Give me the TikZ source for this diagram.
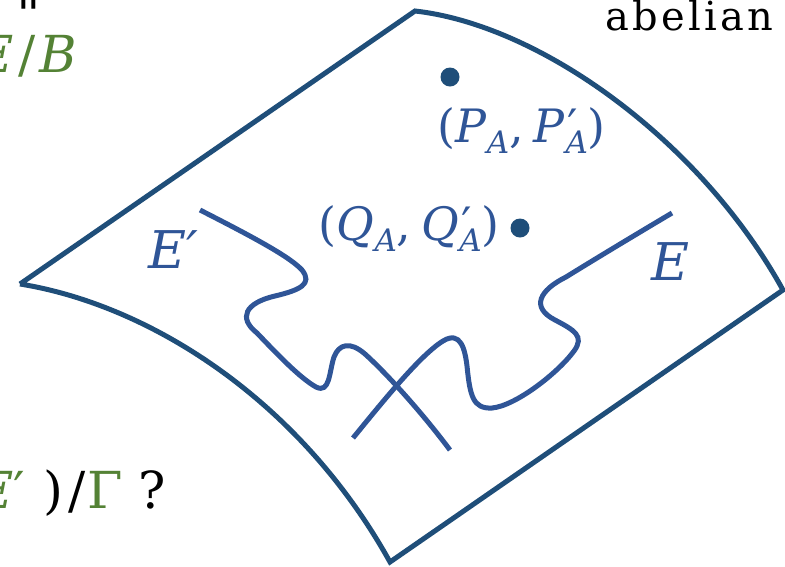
\documentclass[tikz,border=0pt]{standalone}
\usepackage{fontspec}
\setmainfont{DejaVu Serif}
\usetikzlibrary{positioning}
\definecolor{surfaceblue}{HTML}{1F4E79}
\definecolor{curveblue}{HTML}{2F5597}
\definecolor{mathgreen}{HTML}{548235}
\newcommand{\subA}{\raisebox{-0.24em}{\fontsize{31}{33}\selectfont\itshape A}}
\newcommand{\primeA}{\makebox[0pt][l]{\hspace{0.05em}′}\subA}
\tikzset{
    surface/.style={draw=surfaceblue, line width=5pt, line join=miter},
    curve/.style={draw=curveblue, line width=5pt},
    ptdot/.style={circle, fill=surfaceblue, inner sep=0pt, minimum size=19pt},
    ptlabel/.style={text=curveblue, inner sep=0pt, font=\fontsize{46}{50}\selectfont},
    cvlabel/.style={text=curveblue, inner sep=0pt, font=\fontsize{52}{56}\selectfont\itshape},
    slidetext/.style={inner sep=0pt, font=\fontsize{51}{56}\selectfont}
}
\begin{document}
\begin{tikzpicture}[x=1pt, y=-1pt]
    \useasboundingbox (0,0) rectangle (785,566);
    \clip (0,0) rectangle (785,566);

    % Surface
    \draw [surface] (20,284) -- (415,11)
        .. controls (540,25) and (700,140) .. (783,290)
        -- (390,562)
        .. controls (300,400) and (150,305) .. (20,284);

    % Curve E'
    \draw [curve] (200,210) .. controls (255,238) and (290,257) .. (302,270)
        .. controls (313,284) and (300,290) .. (275,296)
        .. controls (245,303) and (238,318) .. (257,333)
        .. controls (278,355) and (300,378) .. (316,387)
        .. controls (330,394) and (329,372) .. (334,357)
        .. controls (339,344) and (350,341) .. (365,354)
        .. controls (385,372) and (420,410) .. (450,450);

    % Curve E
    \draw [curve] (353,438) .. controls (380,405) and (420,355) .. (443,341)
        .. controls (461,330) and (465,350) .. (467,366)
        .. controls (470,396) and (473,409) .. (492,408)
        .. controls (515,406) and (557,374) .. (574,351)
        .. controls (585,336) and (574,330) .. (555,320)
        .. controls (530,307) and (540,290) .. (566,277)
        .. controls (600,256) and (640,232) .. (672,213);

    % Points
    \node [ptdot] (dotP) at (450,77) {};
    \node [ptdot] (dotQ) at (520,228) {};
    \node [ptlabel, anchor=base west] (labelP) at (437,142)
        {(\textit{P}\subA,\:\textit{P}\primeA)};
    \node [ptlabel, anchor=base east] (labelQ) at (500,240)
        {(\textit{Q}\subA,\:\textit{Q}\primeA)};

    % Curve labels
    \node [cvlabel, anchor=base west] (labelEp) at (148,268) {E′};
    \node [cvlabel, anchor=base west] (labelE) at (651,280) {E};

    % Slide text cut by the frame
    \node [inner sep=0pt, anchor=base east, font=\fontsize{40}{44}\selectfont\addfontfeatures{LetterSpace=8}] (abelian) at (773,30) {abelian};
    \node [slidetext, text=mathgreen, anchor=base east] (quotB) at (77,72) {\textit{E}\hspace{0.08em}/\hspace{0.08em}\textit{B}};
    \node [inner sep=0pt, rotate=90, font=\fontsize{50}{54}\selectfont] (eqsign) at (33,-6) {=};
    \node [slidetext, anchor=base east] (quotG) at (166,508)
        {\textcolor{mathgreen}{\textit{E}′}\hspace{0.35em})\hspace{0.1em}/\hspace{0.05em}\textcolor{mathgreen}{Γ}\hspace{0.3em}?};
\end{tikzpicture}
\end{document}
